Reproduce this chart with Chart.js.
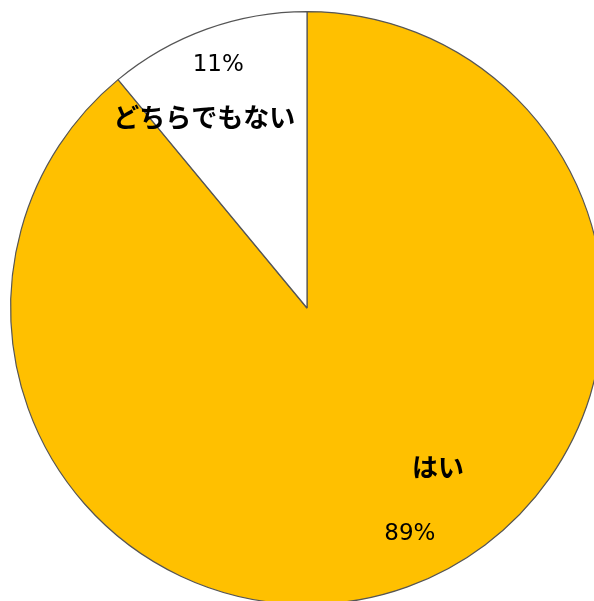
<!DOCTYPE html>
<html>
<head>
<meta charset="utf-8">
<script src="https://cdn.jsdelivr.net/npm/chart.js@4"></script>
<style>
  html, body { margin: 0; padding: 0; background: #fff; overflow: hidden; }
  #wrap { width: 594px; height: 601px; overflow: hidden; position: relative; }
  canvas { position: absolute; left: 0; top: 0; }
</style>
</head>
<body>
<div id="wrap"><canvas id="pie" width="614" height="616"></canvas></div>
<script>
/* ===== DATA ===== */
const labels = ["はい", "どちらでもない"];
const values = [89, 11];
const percentLabels = ["89%", "11%"];

/* ===== LABEL PLACEMENT (angle offset from slice middle, radius fraction) ===== */
const labelSpots = [
  { shift: -0.2, r: 0.76, nameFirst: true, gap: 33, dx: 14 },
  { shift: -0.07, r: 0.8, nameFirst: false, gap: 26, dx: 7 },
];

const sliceLabels = {
  id: "sliceLabels",
  afterDatasetsDraw(chart) {
    const ctx = chart.ctx;
    const meta = chart.getDatasetMeta(0);
    meta.data.forEach((arc, i) => {
      const spot = labelSpots[i];
      const mid = (arc.startAngle + arc.endAngle) / 2 + spot.shift;
      const cx = arc.x + Math.cos(mid) * arc.outerRadius * spot.r;
      const cy = arc.y + Math.sin(mid) * arc.outerRadius * spot.r;
      const sign = spot.nameFirst ? 1 : -1;
      const nameY = cy - sign * spot.gap;
      const pctY = cy + sign * spot.gap;
      const nameX = cx + sign * spot.dx;
      const pctX = cx - sign * spot.dx;

      ctx.save();
      ctx.fillStyle = "#000";
      ctx.textAlign = "center";
      ctx.textBaseline = "middle";
      ctx.font = "bold 26px 'Noto Sans CJK JP'";
      ctx.fillText(labels[i], nameX, nameY);
      ctx.font = "23px 'DejaVu Sans'";
      ctx.fillText(percentLabels[i], pctX, pctY);
      ctx.restore();
    });
  },
};

new Chart(document.getElementById("pie"), {
  type: "pie",
  data: {
    labels: labels,
    datasets: [
      {
        data: values,
        backgroundColor: ["#FFC000", "#FFFFFF"],
        borderColor: "#555555",
        borderWidth: 1.2,
      },
    ],
  },
  options: {
    responsive: false,
    animation: false,
    layout: { padding: 10 },
    plugins: {
      legend: { display: false },
      tooltip: { enabled: false },
    },
  },
  plugins: [sliceLabels],
});
</script>
</body>
</html>
